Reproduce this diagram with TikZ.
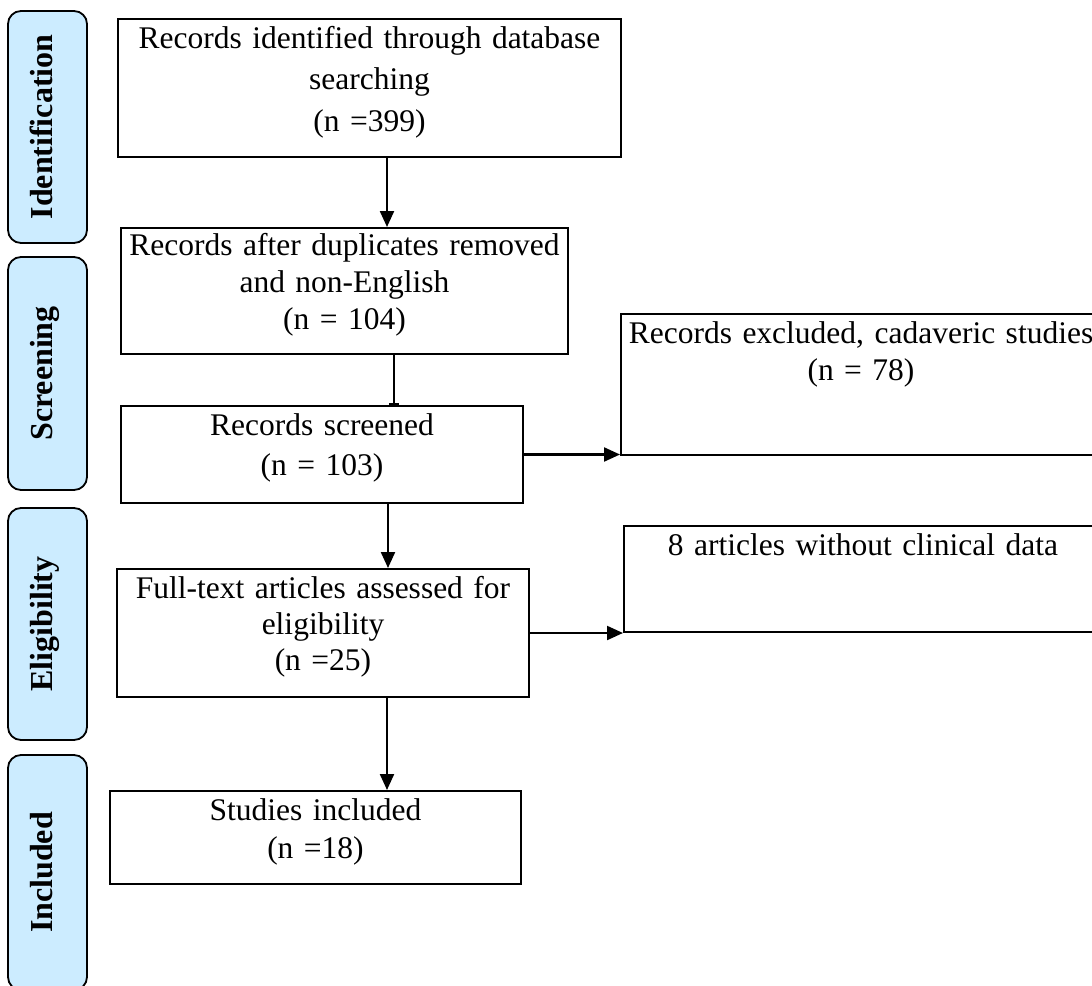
\documentclass[tikz,border=0pt]{standalone}
\usepackage{fontspec}
\setmainfont{Liberation Serif}
\usetikzlibrary{arrows.meta}
\definecolor{stageblue}{RGB}{204,236,255}
\newcommand{\lowstrut}[1]{\rule[-#1pt]{0pt}{1pt}}

\begin{document}
\begin{tikzpicture}[x=1pt,y=1pt,
    box/.style={draw,line width=2pt,inner sep=0pt,align=center,anchor=north west,
      font=\fontsize{31.5}{37}\selectfont},
    stage/.style={draw,line width=1.8pt,fill=stageblue,rounded corners=13pt,rotate=90,
      inner sep=0pt,minimum height=79pt,text height=22pt,text depth=13pt,
      font=\fontsize{32}{37}\selectfont\bfseries},
    arr/.style={line width=2.2pt,-{Triangle[length=16pt,width=14pt]}}]
  \useasboundingbox (0,0) rectangle (1092,-985);
  % stages
  \node[stage,minimum width=232pt] (sid) at (47.5,-127) {Identification};
  \node[stage,minimum width=233pt] (ssc) at (47.5,-373.5) {Screening};
  \node[stage,minimum width=232pt] (sel) at (47.5,-624) {Eligibility};
  \node[stage,minimum width=235pt] (sin) at (47.5,-872.5) {Included};
  % boxes
  \node[box,text width=503pt,minimum height=138pt,font=\fontsize{31.5}{41.5}\selectfont] (ident) at (117,-18)
    {Records identified through database\\searching\\(n =399)\lowstrut{19}};
  \node[box,text width=447pt,minimum height=126pt] (dedup) at (120,-227)
    {Records after duplicates removed\\and non-English\\(n = 104)\lowstrut{19}};
  \node[box,text width=402pt,minimum height=97pt,font=\fontsize{31.5}{40}\selectfont] (screen) at (120,-405)
    {Records screened\\(n = 103)\lowstrut{19}};
  \node[box,text width=480pt,minimum height=141pt] (excl) at (620,-313)
    {Records excluded, cadaveric studies\\(n = 78)\lowstrut{66}};
  \node[box,text width=478pt,minimum height=106pt] (nodata) at (623,-525)
    {8 articles without clinical data\lowstrut{68}};
  \node[box,text width=412pt,minimum height=128pt,font=\fontsize{31.5}{36}\selectfont] (full) at (116,-568)
    {Full-text articles assessed for\\eligibility\\(n =25)\lowstrut{20}};
  \node[box,text width=411pt,minimum height=93pt,font=\fontsize{31.5}{38}\selectfont] (incl) at (109,-790)
    {Studies included\\(n =18)\lowstrut{17}};
  % arrows
  \draw[arr] (387,0 |- ident.south) -- (387,0 |- dedup.north);
  \draw[line width=2pt,-{Bar[width=10pt]}] (394,0 |- dedup.south) -- (394,0 |- screen.north);
  \draw[arr] (screen.east) -- (screen.east -| excl.west);
  \draw[arr] (388,0 |- screen.south) -- (388,0 |- full.north);
  \draw[arr] (full.east) -- (nodata.south west);
  \draw[arr] (387,0 |- full.south) -- (387,0 |- incl.north);
\end{tikzpicture}
\end{document}
